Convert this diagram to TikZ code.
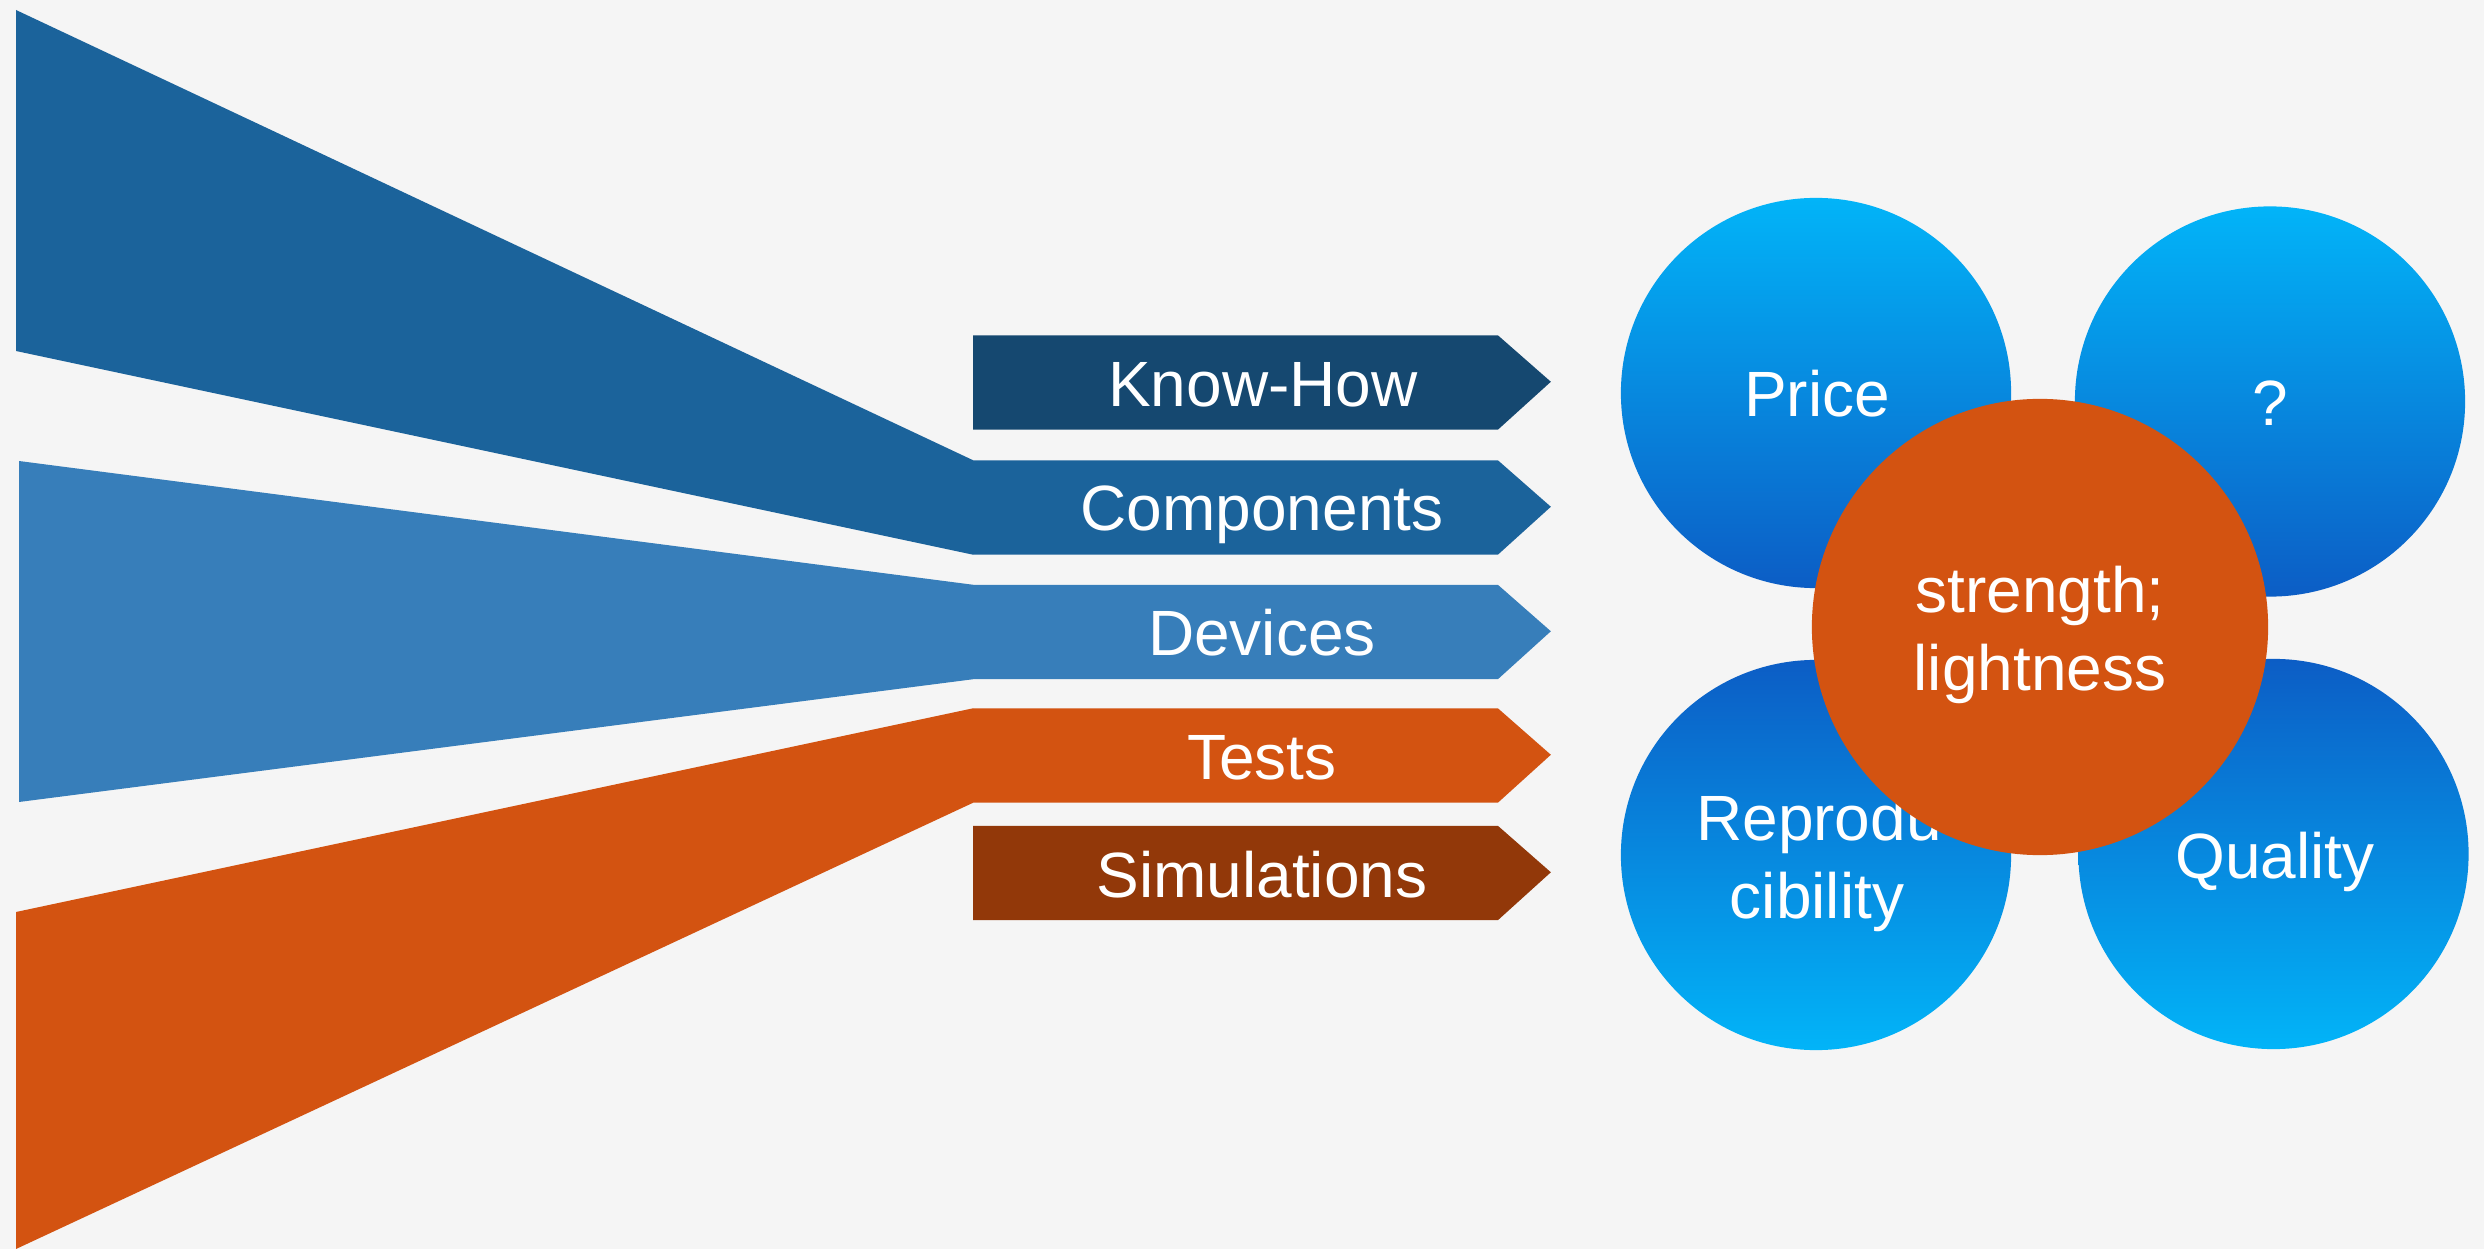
\documentclass[tikz,border=0pt]{standalone}
\usepackage{fontspec}
\setmainfont{Liberation Sans}
\definecolor{bg}{HTML}{F5F5F5}
\definecolor{navy}{HTML}{154870}
\definecolor{midblue}{HTML}{1B639B}
\definecolor{litblue}{HTML}{377EBA}
\definecolor{orng}{HTML}{D35311}
\definecolor{brwn}{HTML}{923809}
\definecolor{cyanb}{HTML}{02B4F8}
\definecolor{deepb}{HTML}{0C5DC5}
\begin{document}
\begin{tikzpicture}[x=0.01cm,y=-0.01cm,
  boxbody/.style={rectangle, inner sep=0pt, minimum width=5.23cm, minimum height=0.93cm},
  lbl/.style={text=white, anchor=base, inner sep=0pt, font=\fontsize{18.2}{21.8}\selectfont},
  topball/.style={circle, inner sep=0pt, minimum size=3.9cm, top color=cyanb, bottom color=deepb},
  botball/.style={circle, inner sep=0pt, minimum size=3.9cm, top color=deepb, bottom color=cyanb}]
\fill[bg] (0,0) rectangle (2484,1249);
\useasboundingbox (0,0) rectangle (2484,1249);

% arrow boxes (body nodes; body + pointed tip filled as one path)
\node[boxbody] (kh) at (1235.5,382.5) {};
\node[boxbody] (comp) at (1235.5,507.5) {};
\node[boxbody] (dev) at (1235.5,632) {};
\node[boxbody] (tests) at (1235.5,755.5) {};
\node[boxbody] (sim) at (1235.5,873) {};
\foreach \b/\c in {kh/navy, comp/midblue, dev/litblue, tests/orng, sim/brwn}
  \fill[\c] (\b.north west) -- (\b.north east) -- ++(53,46.5) -- (\b.south east) -- (\b.south west) -- cycle;

% wedges
\fill[midblue] (16,10) -- (comp.north west) -- (comp.south west) -- (16,351) -- cycle;
\fill[litblue] (19,461) -- (dev.north west) -- (dev.south west) -- (19,802) -- cycle;
\fill[orng] (16,912) -- (tests.north west) -- (tests.south west) -- (16,1249) -- cycle;

% box labels
\node[lbl] (khT) at (1263,406.5) {Know-How};
\node[lbl] (compT) at (1262,531) {Components};
\node[lbl] (devT) at (1262,655.5) {Devices};
\node[lbl] (testsT) at (1262,779.5) {Tests};
\node[lbl] (simT) at (1262,897) {Simulations};

% circles
\node[topball] (price) at (1816,393) {};
\node[topball] (quest) at (2270,401.5) {};
\node[botball] (repro) at (1816,855) {};
\node[botball] (qual) at (2273.5,854) {};
\node[lbl] (priceT) at (1817,417) {Price};
\node[lbl] (questT) at (2270,425.5) {?};
\node[lbl] (reproT) at (1819,840.5) {Reprodu};
\node[lbl] (reproT2) at (1817,918) {cibility};
\node[lbl] (qualT) at (2275,878) {Quality};

\node[circle, inner sep=0pt, minimum size=4.56cm, fill=orng] (core) at (2040,627) {};
\node[lbl] (coreT) at (2040,613) {strength;};
\node[lbl] (coreT2) at (2040,690) {lightness};
\end{tikzpicture}
\end{document}
